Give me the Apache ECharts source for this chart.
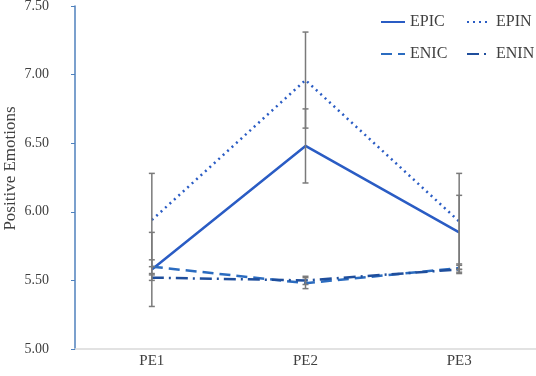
<!DOCTYPE html>
<html>
<head>
<meta charset="utf-8">
<script src="https://cdn.jsdelivr.net/npm/echarts@6/dist/echarts.min.js"></script>
<style>
  html, body { margin: 0; padding: 0; background: #fff; }
  #chart { width: 536px; height: 376px; }
</style>
</head>
<body>
<div id="chart"></div>
<script>
var categories = ["PE1", "PE2", "PE3"];
var seriesNames = ["EPIC", "EPIN", "ENIC", "ENIN"];
var epic = [5.58, 6.48, 5.85];
var epin = [5.94, 6.96, 5.93];
var enic = [5.60, 5.48, 5.59];
var enin = [5.52, 5.50, 5.58];
// standard errors
var epicErr = [0.27, 0.27, 0.27];
var epinErr = [0.34, 0.35, 0.35];
var enicErr = [0.05, 0.04, 0.03];
var eninErr = [0.02, 0.03, 0.03];
var yTicks = [5.00, 5.50, 6.00, 6.50, 7.00, 7.50];

var font = "'Liberation Serif', 'Times New Roman', serif";
var textColor = "#404040";

var lineSpecs = [
    { name: "EPIC", data: epic, err: epicErr, color: "#2a5cc4", type: "solid" },
    { name: "EPIN", data: epin, err: epinErr, color: "#2a5cc4", type: [2, 4] },
    { name: "ENIC", data: enic, err: enicErr, color: "#2b6cc0", type: [11, 6] },
    { name: "ENIN", data: enin, err: eninErr, color: "#1f4e9c", type: [12, 5, 2, 5] }
];

var errData = [];
lineSpecs.forEach(function(s) {
    s.data.forEach(function(v, i) {
        errData.push([i, v - s.err[i], v + s.err[i]]);
    });
});

var series = lineSpecs.map(function(s) {
    return {
        name: s.name,
        type: 'line',
        data: s.data,
        symbol: 'none',
        lineStyle: { color: s.color, width: 2.5, type: s.type },
        itemStyle: { color: s.color },
        z: 2
    };
});

series.push({
    type: 'custom',
    name: 'err',
    data: errData,
    z: 3,
    renderItem: function(params, api) {
        var top = api.coord([api.value(0), api.value(2)]);
        var bot = api.coord([api.value(0), api.value(1)]);
        var hw = 3;
        var st = { stroke: '#7a7a7a', lineWidth: 1.5 };
        return {
            type: 'group',
            children: [
                { type: 'line', shape: { x1: top[0], y1: top[1], x2: bot[0], y2: bot[1] }, style: st },
                { type: 'line', shape: { x1: top[0] - hw, y1: top[1], x2: top[0] + hw, y2: top[1] }, style: st },
                { type: 'line', shape: { x1: bot[0] - hw, y1: bot[1], x2: bot[0] + hw, y2: bot[1] }, style: st }
            ]
        };
    }
});

var legendPos = [[375, 9], [461, 9], [375, 41], [461, 41]];
var legends = seriesNames.map(function(n, i) {
    return {
        data: [n],
        left: legendPos[i][0],
        top: legendPos[i][1],
        itemWidth: 24,
        itemHeight: 14,
        itemStyle: { opacity: 0 },
        textStyle: { fontFamily: font, fontSize: 16, color: textColor }
    };
});

var chart = echarts.init(document.getElementById('chart'));
chart.setOption({
    animation: false,
    backgroundColor: '#fff',
    legend: legends,
    grid: { left: 75, right: 0, top: 6, bottom: 27, outerBoundsMode: 'none', containLabel: false },
    xAxis: {
        type: 'category',
        data: categories,
        boundaryGap: true,
        axisLine: { lineStyle: { color: '#d9d9d9', width: 1.5 } },
        axisTick: { show: false },
        axisLabel: { fontFamily: font, fontSize: 15, color: textColor, margin: 5 }
    },
    yAxis: {
        type: 'value',
        min: 5,
        max: 7.5,
        interval: 0.5,
        name: 'Positive Emotions',
        nameLocation: 'middle',
        nameGap: 56,
        nameMoveOverlap: false,
        nameTextStyle: { fontFamily: font, fontSize: 17, color: textColor, padding: [0, 0, 0, 18] },
        axisLine: { show: true, lineStyle: { color: '#4f81bd', width: 1.5 } },
        axisTick: { show: true, length: 4, lineStyle: { color: '#4f81bd' } },
        splitLine: { show: false },
        axisLabel: {
            fontFamily: font, fontSize: 14, color: textColor, margin: 26,
            formatter: function(v) {
                var t = yTicks.filter(function(y) { return Math.abs(y - v) < 1e-6; });
                return t.length ? t[0].toFixed(2) : '';
            }
        }
    },
    series: series
});
</script>
</body>
</html>
